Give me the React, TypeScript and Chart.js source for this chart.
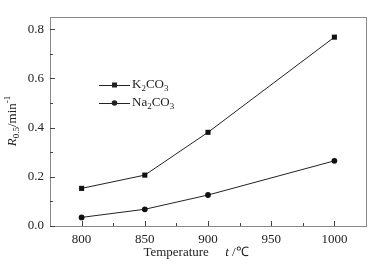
import React, { useEffect, useRef } from "react";
import { Chart, registerables } from "chart.js";

Chart.register(...registerables);

const temperatures = [800, 850, 900, 1000];
const k2co3 = [0.153, 0.207, 0.381, 0.768];
const na2co3 = [0.035, 0.068, 0.126, 0.265];
const xTicks = [800, 850, 900, 950, 1000];
const xMinor = [800, 825, 850, 875, 900, 925, 950, 975, 1000];
const yTicks = [0, 0.2, 0.4, 0.6, 0.8];
const yMinor = [0.1, 0.3, 0.5, 0.7];

const FONT = "'Liberation Serif', 'Times New Roman', serif";
const TXT = "#222";

function drawRich(ctx: CanvasRenderingContext2D, parts: { t: string; s?: "sub" | "sup"; i?: boolean }[], x: number, y: number, size: number) {
  let cx = x;
  for (const p of parts) {
    const fs = p.s ? Math.round(size * 0.68) : size;
    ctx.font = `${p.i ? "italic " : ""}${fs}px ${FONT}`;
    const dy = p.s === "sub" ? size * 0.3 : p.s === "sup" ? -size * 0.38 : 0;
    ctx.fillText(p.t, cx, y + dy);
    cx += ctx.measureText(p.t).width;
  }
  return cx - x;
}

function measureRich(ctx: CanvasRenderingContext2D, parts: { t: string; s?: "sub" | "sup"; i?: boolean }[], size: number) {
  let w = 0;
  for (const p of parts) {
    const fs = p.s ? Math.round(size * 0.68) : size;
    ctx.font = `${p.i ? "italic " : ""}${fs}px ${FONT}`;
    w += ctx.measureText(p.t).width;
  }
  return w;
}

const decorPlugin = {
  id: "decor",
  afterDraw(chart: any) {
    const ctx: CanvasRenderingContext2D = chart.ctx;
    const { left, right, top, bottom } = chart.chartArea;
    const xs = chart.scales.x;
    const ys = chart.scales.y;
    ctx.save();
    // frame
    ctx.strokeStyle = "#8a8a8a";
    ctx.lineWidth = 1;
    ctx.strokeRect(Math.round(left) + 0.5, Math.round(top) + 0.5, Math.round(right - left), Math.round(bottom - top));
    // ticks
    ctx.strokeStyle = "#444";
    ctx.beginPath();
    for (const v of xMinor) {
      const px = Math.round(xs.getPixelForValue(v)) + 0.5;
      const len = xTicks.includes(v) ? 5 : 3;
      ctx.moveTo(px, Math.round(bottom));
      ctx.lineTo(px, Math.round(bottom) - len);
    }
    for (const v of yTicks) {
      const py = Math.round(ys.getPixelForValue(v)) + 0.5;
      ctx.moveTo(Math.round(left), py);
      ctx.lineTo(Math.round(left) + 5, py);
    }
    for (const v of yMinor) {
      const py = Math.round(ys.getPixelForValue(v)) + 0.5;
      ctx.moveTo(Math.round(left), py);
      ctx.lineTo(Math.round(left) + 3, py);
    }
    ctx.stroke();

    // legend
    ctx.fillStyle = TXT;
    ctx.strokeStyle = "#222";
    ctx.textBaseline = "middle";
    ctx.textAlign = "left";
    const rows = [
      { y: 85, style: "rect", parts: [{ t: "K" }, { t: "2", s: "sub" as const }, { t: "CO" }, { t: "3", s: "sub" as const }] },
      { y: 103, style: "circle", parts: [{ t: "Na" }, { t: "2", s: "sub" as const }, { t: "CO" }, { t: "3", s: "sub" as const }] },
    ];
    for (const r of rows) {
      ctx.beginPath();
      ctx.moveTo(99, r.y + 0.5);
      ctx.lineTo(130, r.y + 0.5);
      ctx.stroke();
      ctx.beginPath();
      if (r.style === "rect") ctx.rect(112, r.y - 2.5, 5, 5);
      else ctx.arc(114.5, r.y, 2.8, 0, Math.PI * 2);
      ctx.fill();
      drawRich(ctx, r.parts, 132, r.y, 13);
    }

    // x title
    ctx.textBaseline = "middle";
    const xParts = [{ t: "Temperature" }, { t: "     " }, { t: "t", i: true }, { t: " /℃" }];
    const xw = measureRich(ctx, xParts, 13);
    drawRich(ctx, xParts, 196 - xw / 2, 253, 13);

    // y title
    const yParts = [{ t: "R", i: true }, { t: "0.5", s: "sub" as const }, { t: "/min" }, { t: "-1", s: "sup" as const }];
    const yw = measureRich(ctx, yParts, 13);
    ctx.translate(13, 121);
    ctx.rotate(-Math.PI / 2);
    drawRich(ctx, yParts, -yw / 2, 0, 13);
    ctx.restore();
  },
};

export default function App() {
  const ref = useRef<HTMLCanvasElement>(null);
  useEffect(() => {
    if (!ref.current) return;
    const chart = new Chart(ref.current, {
      type: "line",
      data: {
        datasets: [
          {
            label: "K2CO3",
            data: temperatures.map((t, i) => ({ x: t, y: k2co3[i] })),
            borderColor: "#222",
            backgroundColor: "#111",
            borderWidth: 1,
            pointStyle: "rect",
            pointRadius: 3.6,
            pointBorderWidth: 0,
          },
          {
            label: "Na2CO3",
            data: temperatures.map((t, i) => ({ x: t, y: na2co3[i] })),
            borderColor: "#222",
            backgroundColor: "#111",
            borderWidth: 1,
            pointStyle: "circle",
            pointRadius: 2.9,
            pointBorderWidth: 0,
          },
        ],
      },
      options: {
        animation: false,
        responsive: false,
        maintainAspectRatio: false,
        layout: { padding: { top: 17, right: 12, left: 0, bottom: 0 } },
        plugins: { legend: { display: false }, tooltip: { enabled: false } },
        scales: {
          x: {
            type: "linear",
            min: 775,
            max: 1025,
            afterBuildTicks: (s: any) => {
              s.ticks = xTicks.map((v) => ({ value: v }));
            },
            afterFit: (s: any) => {
              s.height = 43;
            },
            grid: { display: false, drawTicks: false, tickLength: 0 },
            border: { display: false },
            ticks: {
              padding: 6,
              color: TXT,
              font: { family: FONT, size: 13 },
              maxRotation: 0,
              callback: (v: any) => String(v),
            },
          },
          y: {
            type: "linear",
            min: 0,
            max: 0.85,
            afterBuildTicks: (s: any) => {
              s.ticks = yTicks.map((v) => ({ value: v }));
            },
            afterFit: (s: any) => {
              s.width = 50;
            },
            grid: { display: false, drawTicks: false, tickLength: 0 },
            border: { display: false },
            ticks: {
              padding: 6,
              color: TXT,
              font: { family: FONT, size: 13 },
              callback: (v: any) => Number(v).toFixed(1),
            },
          },
        },
      },
      plugins: [decorPlugin],
    });
    return () => chart.destroy();
  }, []);
  return (
    <div style={{ position: "absolute", left: 0, top: 0, width: 378, height: 269, background: "#fff" }}>
      <canvas ref={ref} width={378} height={269} style={{ width: 378, height: 269, display: "block" }} />
    </div>
  );
}
